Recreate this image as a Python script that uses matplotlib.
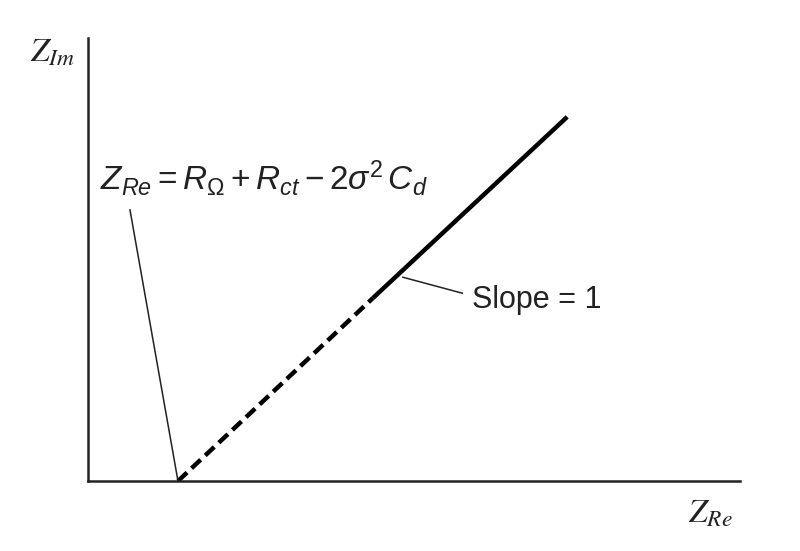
import matplotlib.pyplot as plt

plt.rcParams['mathtext.fontset'] = 'custom'
plt.rcParams['mathtext.rm'] = 'Liberation Sans'
plt.rcParams['mathtext.it'] = 'Liberation Sans:italic'

# schematic Nyquist plot: Warburg region (slope = 1)
x_dashed = [1.38, 4.37]
y_dashed = [0.0, 4.13]
x_solid = [4.37, 7.35]
y_solid = [4.13, 8.22]

# leader lines for the labels
lead_formula_x = [0.644, 1.38]
lead_formula_y = [6.12, 0.0]
lead_slope_x = [4.83, 5.74]
lead_slope_y = [4.60, 4.24]

formula_label = r'$Z_{Re} = R_{\Omega} + R_{ct} - 2\sigma^2\,C_d$'
slope_label = 'Slope = 1'

fig = plt.figure(figsize=(8, 5.51), dpi=100)
ax = fig.add_axes([0.11, 0.127, 0.815, 0.804])
ax.set_xlim(0, 10)
ax.set_ylim(0, 10)

for s in ['top', 'right']:
    ax.spines[s].set_visible(False)
for s in ['left', 'bottom']:
    ax.spines[s].set_linewidth(1.8)
    ax.spines[s].set_color('#222222')
ax.set_xticks([])
ax.set_yticks([])

ax.plot(x_dashed, y_dashed, color='black', lw=3.2, dashes=(2.8, 1.4), solid_capstyle='butt')
ax.plot(x_solid, y_solid, color='black', lw=3.2, solid_capstyle='butt')
ax.plot(lead_formula_x, lead_formula_y, color='#222222', lw=1.1)
ax.plot(lead_slope_x, lead_slope_y, color='#222222', lw=1.1)

ax.text(0.18, 6.57, formula_label, fontsize=24, va='baseline', ha='left', color='#222222')
ax.text(5.89, 3.91, slope_label, fontsize=22, family='Liberation Sans', va='baseline',
        ha='left', color='#222222')

ax.text(-0.89, 9.46, r'$Z_{Im}$', fontsize=24, va='baseline', ha='left', color='#222222',
        math_fontfamily='stix')
ax.text(9.20, -0.93, r'$Z_{Re}$', fontsize=24, va='baseline', ha='left', color='#222222',
        math_fontfamily='stix')

fig.savefig('out.png', dpi=100)
